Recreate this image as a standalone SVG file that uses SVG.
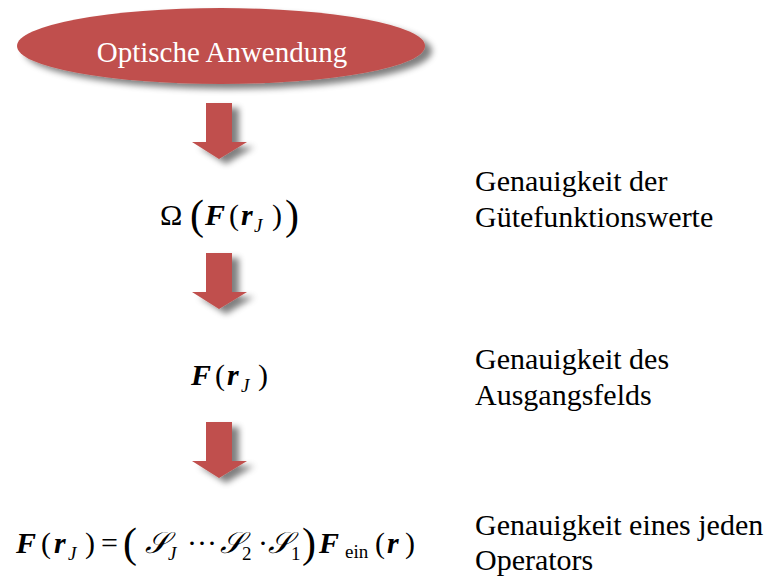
<svg xmlns="http://www.w3.org/2000/svg" width="771" height="581" viewBox="0 0 771 581">
<defs>
<filter id="sh" x="-20%" y="-20%" width="150%" height="160%">
<feGaussianBlur in="SourceAlpha" stdDeviation="3"/>
<feOffset dx="7" dy="5" result="b"/>
<feFlood flood-color="#000" flood-opacity="0.5"/>
<feComposite in2="b" operator="in"/>
<feMerge><feMergeNode/><feMergeNode in="SourceGraphic"/></feMerge>
</filter>
<path id="arr" d="M206,0 H232 V39 H247 L219,56 L192,39 H206 Z" fill="#C0504D"/>
</defs>
<rect width="771" height="581" fill="#fff"/>
<g id="start">
<ellipse fill="#C0504D" cx="221" cy="46" rx="204" ry="38" filter="url(#sh)"/>
<text font-family="Liberation Serif" font-size="29" fill="#fff" x="222" y="62" text-anchor="middle">Optische Anwendung</text>
</g>
<g id="connectors">
<use href="#arr" y="103" filter="url(#sh)"/>
<use href="#arr" y="253" filter="url(#sh)"/>
<use href="#arr" y="422" filter="url(#sh)"/>
</g>
<g id="merit">
<text font-family="Liberation Serif" font-size="30" x="160" y="225">Ω</text>
<text font-family="Liberation Serif" font-size="42" x="190" y="229">(</text>
<text font-family="Liberation Serif" font-size="30" font-weight="bold" font-style="italic" x="205" y="225">F</text>
<text font-family="Liberation Serif" font-size="30" x="229" y="225">(</text>
<text font-family="Liberation Serif" font-size="30" font-weight="bold" font-style="italic" x="241" y="225">r</text>
<text font-family="Liberation Serif" font-size="19" font-style="italic" x="254" y="232">J</text>
<text font-family="Liberation Serif" font-size="30" x="272" y="225">)</text>
<text font-family="Liberation Serif" font-size="42" x="285" y="229">)</text>
</g>
<g id="field">
<text font-family="Liberation Serif" font-size="30" font-weight="bold" font-style="italic" x="191" y="385">F</text>
<text font-family="Liberation Serif" font-size="30" x="215" y="385">(</text>
<text font-family="Liberation Serif" font-size="30" font-weight="bold" font-style="italic" x="227" y="385">r</text>
<text font-family="Liberation Serif" font-size="19" font-style="italic" x="241" y="392">J</text>
<text font-family="Liberation Serif" font-size="30" x="258" y="385">)</text>
</g>
<g id="operators">
<text font-family="Liberation Serif" font-size="30" font-weight="bold" font-style="italic" x="16" y="553">F</text>
<text font-family="Liberation Serif" font-size="30" x="41" y="553">(</text>
<text font-family="Liberation Serif" font-size="30" font-weight="bold" font-style="italic" x="54" y="553">r</text>
<text font-family="Liberation Serif" font-size="19" font-style="italic" x="68" y="560">J</text>
<text font-family="Liberation Serif" font-size="30" x="85" y="553">)</text>
<text font-family="Liberation Serif" font-size="30" x="101" y="553">=</text>
<text font-family="Liberation Serif" font-size="42" x="123" y="557">(</text>
<text font-family="Liberation Serif" font-size="30" font-style="italic" x="145" y="553">𝒮</text>
<text font-family="Liberation Serif" font-size="19" font-style="italic" x="168" y="560">J</text>
<text font-family="Liberation Serif" font-size="30" x="187" y="553">···</text>
<text font-family="Liberation Serif" font-size="30" font-style="italic" x="220" y="553">𝒮</text>
<text font-family="Liberation Serif" font-size="19" x="242" y="560">2</text>
<text font-family="Liberation Serif" font-size="30" x="258" y="553">·</text>
<text font-family="Liberation Serif" font-size="30" font-style="italic" x="268" y="553">𝒮</text>
<text font-family="Liberation Serif" font-size="19" x="291" y="560">1</text>
<text font-family="Liberation Serif" font-size="42" x="302" y="557">)</text>
<text font-family="Liberation Serif" font-size="30" font-weight="bold" font-style="italic" x="319" y="553">F</text>
<text font-family="Liberation Serif" font-size="19" x="345" y="558">ein</text>
<text font-family="Liberation Serif" font-size="30" x="375" y="553">(</text>
<text font-family="Liberation Serif" font-size="30" font-weight="bold" font-style="italic" x="387" y="553">r</text>
<text font-family="Liberation Serif" font-size="30" x="405" y="553">)</text>
</g>
<g id="labels">
<text font-family="Liberation Serif" font-size="30" x="475" y="191">Genauigkeit der</text>
<text font-family="Liberation Serif" font-size="30" x="475" y="227">Gütefunktionswerte</text>
<text font-family="Liberation Serif" font-size="30" x="475" y="369">Genauigkeit des</text>
<text font-family="Liberation Serif" font-size="30" x="475" y="405">Ausgangsfelds</text>
<text font-family="Liberation Serif" font-size="30" x="475" y="535">Genauigkeit eines jeden</text>
<text font-family="Liberation Serif" font-size="30" x="475" y="570">Operators</text>
</g>
</svg>
